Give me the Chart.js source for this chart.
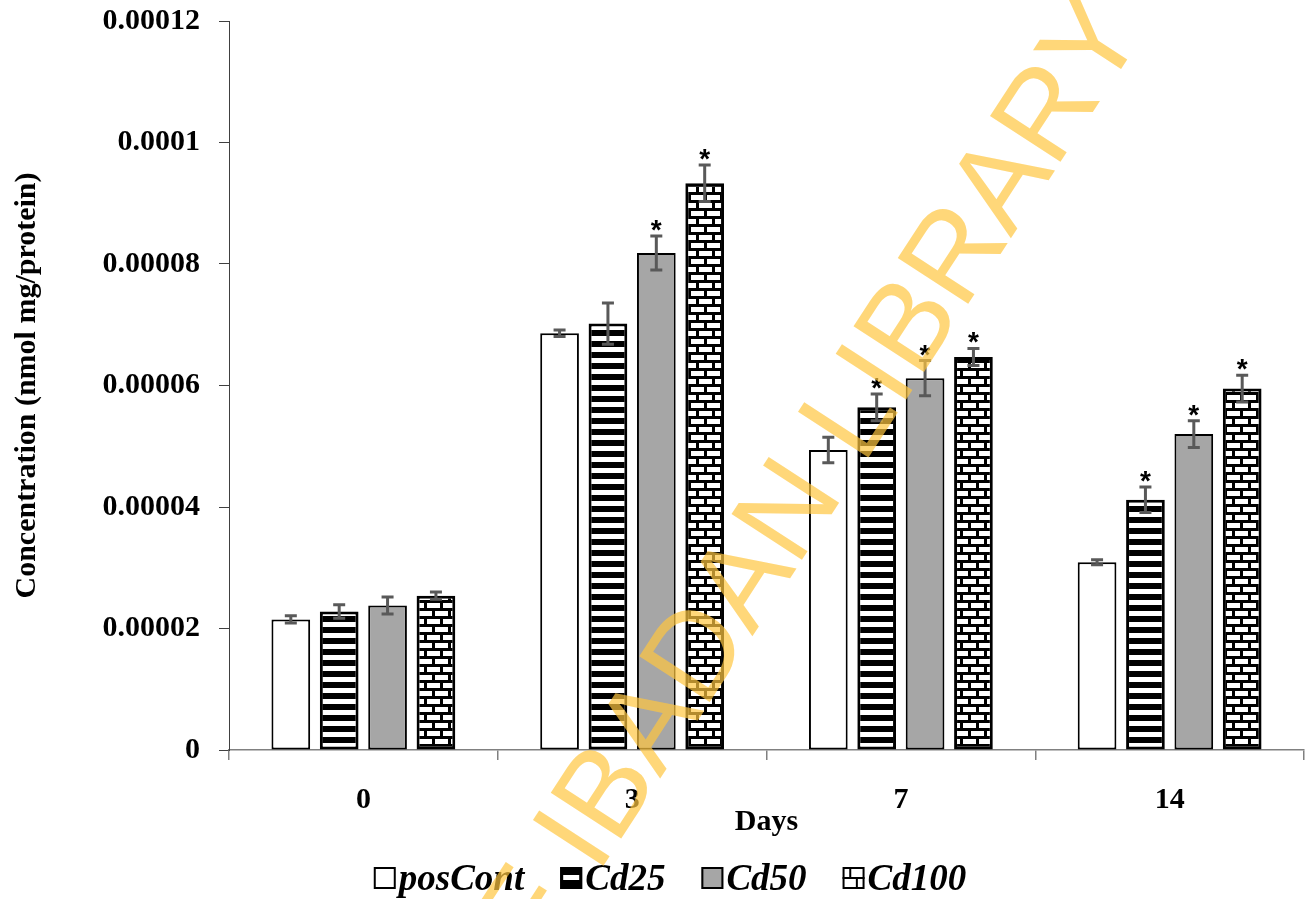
<!DOCTYPE html>
<html>
<head>
<meta charset="utf-8">
<script src="https://cdn.jsdelivr.net/npm/chart.js@4"></script>
<style>
  html, body { margin: 0; padding: 0; background: #fff; }
  #wrap { width: 1313px; height: 899px; position: relative; }
</style>
</head>
<body>
<div id="wrap"><canvas id="chart"></canvas></div>
<script>
// Chart data
const days = ['0', '3', '7', '14'];
const seriesNames = ['posCont', 'Cd25', 'Cd50', 'Cd100'];
const yTickLabels = ['0', '0.00002', '0.00004', '0.00006', '0.00008', '0.0001', '0.00012'];

const posContValues = [0.0000215, 0.0000686, 0.0000494, 0.0000309];
const cd25Values = [0.0000228, 0.0000702, 0.0000564, 0.0000412];
const cd50Values = [0.0000238, 0.0000818, 0.0000612, 0.0000520];
const cd100Values = [0.0000254, 0.0000933, 0.0000647, 0.0000595];

const posContErr = [0.0000006, 0.00000055, 0.0000021, 0.0000004];
const cd25Err = [0.0000011, 0.0000034, 0.0000022, 0.0000021];
const cd50Err = [0.0000014, 0.0000028, 0.0000029, 0.0000022];
const cd100Err = [0.0000006, 0.0000030, 0.0000014, 0.0000022];

// significance marks (*)
const posContSig = [false, false, false, false];
const cd25Sig = [false, false, true, true];
const cd50Sig = [false, true, true, true];
const cd100Sig = [false, true, true, true];

const SERIF = '"Liberation Serif", "Times New Roman", serif';

/**
 * Fill patterns for the hatched bars
 */
function stripePattern() {
    const c = document.createElement('canvas');
    c.width = 8; c.height = 11;
    const g = c.getContext('2d');
    g.fillStyle = '#000';
    g.fillRect(0, 0, 8, 11);
    g.fillStyle = '#fff';
    g.fillRect(0, 6, 8, 5);
    return g.createPattern(c, 'repeat');
}

function brickPattern() {
    const c = document.createElement('canvas');
    c.width = 16; c.height = 16;
    const g = c.getContext('2d');
    g.fillStyle = '#000';
    g.fillRect(0, 0, 16, 16);
    g.fillStyle = '#fff';
    g.fillRect(3, 3, 13, 5);
    g.fillRect(0, 11, 8, 5);
    g.fillRect(11, 11, 5, 5);
    return g.createPattern(c, 'repeat');
}

const errors = [posContErr, cd25Err, cd50Err, cd100Err];
const sigs = [posContSig, cd25Sig, cd50Sig, cd100Sig];

// Error bars and asterisks
const errorBarPlugin = {
    id: 'errorBars',
    afterDatasetsDraw(chart) {
        const ctx = chart.ctx;
        const y = chart.scales.y;
        ctx.save();
        chart.data.datasets.forEach((ds, i) => {
            const meta = chart.getDatasetMeta(i);
            meta.data.forEach((bar, j) => {
                const v = ds.data[j];
                const e = errors[i][j];
                const top = y.getPixelForValue(v + e);
                const bot = y.getPixelForValue(v - e);
                ctx.strokeStyle = '#595959';
                ctx.lineWidth = 3;
                ctx.beginPath();
                ctx.moveTo(bar.x, top);
                ctx.lineTo(bar.x, bot);
                ctx.moveTo(bar.x - 6, top);
                ctx.lineTo(bar.x + 6, top);
                ctx.moveTo(bar.x - 6, bot);
                ctx.lineTo(bar.x + 6, bot);
                ctx.stroke();
                if (sigs[i][j]) {
                    ctx.fillStyle = '#000';
                    ctx.font = 'bold 28px "Liberation Sans", Arial, sans-serif';
                    ctx.textAlign = 'center';
                    ctx.textBaseline = 'alphabetic';
                    ctx.fillText('*', bar.x, top + 3);
                }
            });
        });
        ctx.restore();
    }
};

// Legend at the bottom, drawn by hand so the boxes sit tight to the text
function drawLegendIcon(ctx, idx, x, y, s) {
    ctx.lineWidth = 2;
    ctx.strokeStyle = '#000';
    if (idx === 0) {
        ctx.fillStyle = '#fff';
        ctx.fillRect(x, y, s, s);
    } else if (idx === 1) {
        ctx.fillStyle = '#000';
        ctx.fillRect(x, y, s, s);
        ctx.fillStyle = '#fff';
        ctx.fillRect(x + 3, y + s / 2 - 3, s - 6, 5);
    } else if (idx === 2) {
        ctx.fillStyle = '#A6A6A6';
        ctx.fillRect(x, y, s, s);
    } else {
        ctx.fillStyle = '#fff';
        ctx.fillRect(x, y, s, s);
        ctx.beginPath();
        ctx.moveTo(x, y + s / 2);
        ctx.lineTo(x + s, y + s / 2);
        ctx.moveTo(x + s * 0.35, y);
        ctx.lineTo(x + s * 0.35, y + s / 2);
        ctx.moveTo(x + s * 0.65, y + s / 2);
        ctx.lineTo(x + s * 0.65, y + s);
        ctx.stroke();
    }
    ctx.strokeRect(x + 1, y + 1, s - 2, s - 2);
}

const bottomLegend = {
    id: 'bottomLegend',
    afterDraw(chart) {
        const ctx = chart.ctx;
        ctx.save();
        ctx.font = 'italic bold 37px ' + SERIF;
        ctx.textBaseline = 'middle';
        ctx.textAlign = 'left';
        const box = 22, gapText = 3, gapItem = 36;
        let total = 0;
        seriesNames.forEach(n => { total += box + gapText + ctx.measureText(n).width; });
        total += gapItem * (seriesNames.length - 1);
        let x = 670 - total / 2;
        const cy = 878;
        seriesNames.forEach((n, i) => {
            drawLegendIcon(ctx, i, x, cy - box / 2, box);
            x += box + gapText;
            ctx.fillStyle = '#000';
            ctx.fillText(n, x, cy + 2);
            x += ctx.measureText(n).width + gapItem;
        });
        ctx.restore();
    }
};

// Library watermark laid over the figure
const watermark = {
    id: 'watermark',
    afterDraw(chart) {
        const ctx = chart.ctx;
        ctx.save();
        ctx.translate(569, 857);
        ctx.rotate(-57 * Math.PI / 180);
        ctx.font = '122px "Liberation Sans", Arial, sans-serif';
        ctx.fillStyle = 'rgba(255, 198, 64, 0.7)';
        ctx.textBaseline = 'middle';
        ctx.textAlign = 'left';
        ctx.fillText('IBADAN LIBRARY', 0, 0);
        ctx.textAlign = 'right';
        ctx.fillText('UNIVERSITY OF ', 0, 0);
        ctx.restore();
    }
};

function makeDataset(label, data, bg, bw) {
    return {
        label: label,
        data: data,
        backgroundColor: bg,
        borderColor: '#000',
        borderWidth: bw,
        borderSkipped: false,
        categoryPercentage: 0.72,
        barPercentage: 0.8
    };
}

function initializeChart() {
    const ctx = document.getElementById('chart');
    new Chart(ctx, {
        type: 'bar',
        data: {
            labels: days,
            datasets: [
                makeDataset(seriesNames[0], posContValues, '#fff', 2),
                makeDataset(seriesNames[1], cd25Values, stripePattern(), 3),
                makeDataset(seriesNames[2], cd50Values, '#A6A6A6', 2),
                makeDataset(seriesNames[3], cd100Values, brickPattern(), 3)
            ]
        },
        options: {
            responsive: true,
            maintainAspectRatio: false,
            animation: false,
            layout: { padding: { top: 21, right: 9, left: 0, bottom: 58 } },
            plugins: {
                legend: { display: false },
                tooltip: { enabled: false }
            },
            scales: {
                x: {
                    offset: true,
                    grid: { offset: true, drawOnChartArea: false, drawTicks: true, tickLength: 10, color: '#808080', lineWidth: 1.5 },
                    border: { display: true, color: '#808080', width: 1.5 },
                    ticks: { color: '#000', padding: 22, font: { family: SERIF, size: 30, weight: 'bold' } },
                    title: {
                        display: true, text: 'Days', color: '#000',
                        padding: { top: 0, bottom: 1 },
                        font: { family: SERIF, size: 30, weight: 'bold' }
                    },
                    afterFit: s => { s.height = 91; }
                },
                y: {
                    min: 0,
                    max: 0.00012,
                    ticks: {
                        stepSize: 0.00002,
                        color: '#000',
                        padding: 19,
                        font: { family: SERIF, size: 30, weight: 'bold' },
                        callback: (v, i) => yTickLabels[i]
                    },
                    grid: { drawOnChartArea: false, drawTicks: true, tickLength: 10, color: '#404040' },
                    border: { display: true, color: '#404040', width: 1 },
                    title: {
                        display: true, text: 'Concentration (nmol mg/protein)', color: '#000',
                        padding: { top: 9, bottom: 0 },
                        font: { family: SERIF, size: 30, weight: 'bold' }
                    },
                    afterFit: s => {
                        s.width = 229;
                        s.paddingTop = 0;
                        s.paddingBottom = 0;
                    }
                }
            }
        },
        plugins: [errorBarPlugin, bottomLegend, watermark]
    });
}

if (document.readyState === 'loading') {
    document.addEventListener('DOMContentLoaded', initializeChart);
} else {
    initializeChart();
}
</script>
</body>
</html>
